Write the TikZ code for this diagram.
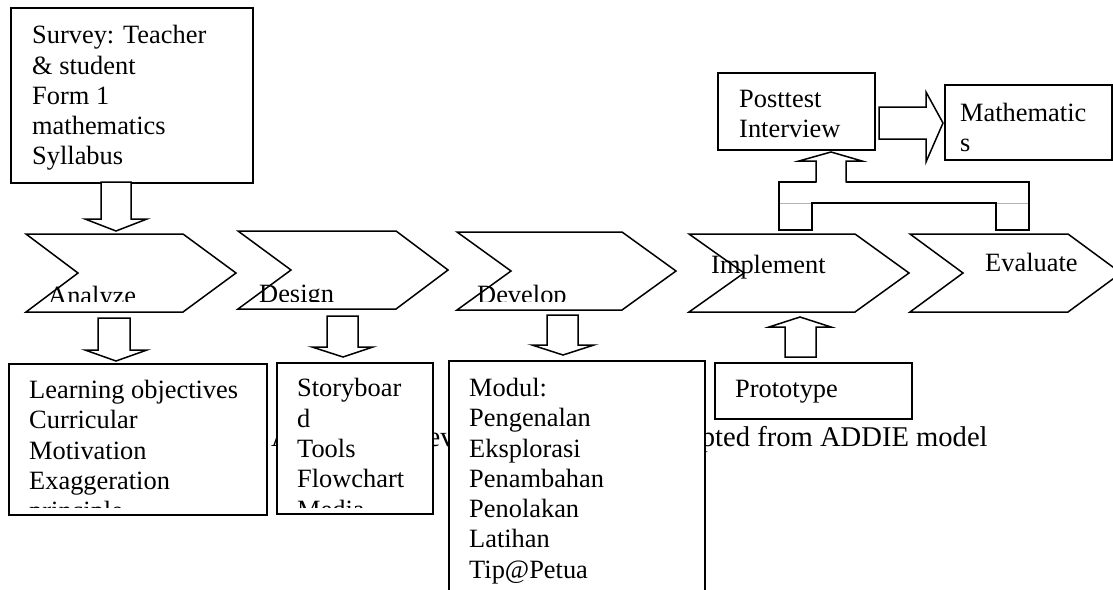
\documentclass[tikz,border=0pt]{standalone}
\usepackage{fontspec}
\setmainfont{Liberation Serif}
\newcommand\fs{\fontsize{26.4}{30.3}\selectfont}
\begin{document}
\begin{tikzpicture}[x=1pt,y=-1pt,
  shp/.style={draw=black, line width=1.5pt, fill=white, line join=miter},
  box/.style={draw=black, line width=1.5pt, fill=white, inner sep=0pt, anchor=north west},
  txt/.style={anchor=north west, inner sep=0pt, align=left, font=\fs},
  seam/.style={draw=black!30, line width=1pt}]
\useasboundingbox (0,0) rectangle (1113,589);
% caption (partly hidden under the boxes)
\node[anchor=base west, inner sep=0pt, font=\fontsize{28.6}{34}\selectfont] (cap) at (271,446) {Application development process adapted from ADDIE model};
% chevrons
\draw[shp] (26,234) -- ++(157,0) -- ++(53,39) -- ++(-53,39) -- ++(-157,0) -- ++(52,-39) -- cycle;
\draw[shp] (238,231) -- ++(158,0) -- ++(52,39) -- ++(-52,39) -- ++(-158,0) -- ++(53,-39) -- cycle;
\draw[shp] (457,232) -- ++(165,0) -- ++(54,39) -- ++(-54,39) -- ++(-165,0) -- ++(54,-39) -- cycle;
\draw[shp] (689,234) -- ++(166,0) -- ++(54,39) -- ++(-54,39) -- ++(-166,0) -- ++(55,-39) -- cycle;
\draw[shp] (910,234) -- ++(158,0) -- ++(53,39) -- ++(-53,39) -- ++(-158,0) -- ++(53,-39) -- cycle;
\begin{scope}
  \clip (0,0) rectangle (1113,301.7);
  \node[txt] (tanalyze) at (48,282.8) {\strut Analyze};
  \node[txt] (tdesign) at (259,281.3) {\strut Design};
  \node[txt] (tdevelop) at (477,282) {\strut Develop};
\end{scope}
\node[txt] (timplement) at (711,252) {\strut Implement};
\node[txt] (tevaluate) at (985,249.8) {\strut Evaluate};
% boxes
\node[box, minimum width=242pt, minimum height=175pt] (survey) at (10,7) {};
\node[txt] (tsurvey) at (32,22.3) {\strut Survey: Teacher\\ \& student\\ Form 1\\ mathematics\\ Syllabus};
\node[box, minimum width=258pt, minimum height=151pt] (learn) at (8,363) {};
\node[box, minimum width=156pt, minimum height=151pt] (story) at (276,362) {};
\begin{scope}
  \clip (0,0) rectangle (1113,507);
  \node[txt] (tlearn) at (29,377) {\strut Learning objectives\\ Curricular\\ Motivation\\ Exaggeration\\ principle};
  \node[txt] (tstory) at (297,375.5) {\strut Storyboar\\ d\\ Tools\\ Flowchart\\ Media};
\end{scope}
\node[box, minimum width=256pt, minimum height=250pt] (modul) at (448,360) {};
\node[txt] (tmodul) at (469,375) {\strut Modul:\\ Pengenalan\\ Eksplorasi\\ Penambahan\\ Penolakan\\ Latihan\\ Tip@Petua};
\node[box, minimum width=197pt, minimum height=56pt] (proto) at (714,362) {};
\node[txt] (tproto) at (735,375.8) {\strut Prototype};
\node[box, minimum width=157pt, minimum height=77pt] (post) at (717,72) {};
\node[txt] (tpost) at (739,85.8) {\strut Posttest\\ Interview};
\node[box, minimum width=167pt, minimum height=75pt] (math) at (944,84) {};
\node[txt] (tmath) at (960,99.8) {\strut Mathematic\\ s};
% block arrows
\draw[shp] (101,182) -- (131,182) -- (131,219) -- (147,219) -- (116,231) -- (85,219) -- (101,219) -- cycle;
\draw[shp] (98,318) -- (130,318) -- (130,350) -- (147,350) -- (116,361) -- (85,350) -- (98,350) -- cycle;
\draw[shp] (327,316) -- (358,316) -- (358,347) -- (373,347) -- (343,357) -- (312,347) -- (327,347) -- cycle;
\draw[shp] (547,315) -- (578,315) -- (578,345) -- (594,345) -- (563,355) -- (532,345) -- (547,345) -- cycle;
\draw[shp] (785,357) -- (816,357) -- (816,327) -- (831,327) -- (800,317) -- (769,327) -- (785,327) -- cycle;
\draw[shp] (879,107) -- (926,107) -- (926,92) -- (943,123) -- (926,162) -- (926,139) -- (879,139) -- cycle;
% bracket from Implement / Evaluate up to Posttest
\draw[shp] (779,230) -- (779,182) -- (1029,182) -- (1029,230) -- (996,230) -- (996,203) -- (812,203) -- (812,230) -- cycle;
\draw[seam] (780,203) -- (811,203);
\draw[seam] (997,203) -- (1028,203);
\fill[white] (816,184) -- (846,184) -- (846,161) -- (862,161) -- (831,152) -- (799,161) -- (816,161) -- cycle;
\draw[shp, fill=none] (816,182.5) -- (816,161) -- (799,161) -- (831,152) -- (862,161) -- (846,161) -- (846,182.5);
\end{tikzpicture}
\end{document}
